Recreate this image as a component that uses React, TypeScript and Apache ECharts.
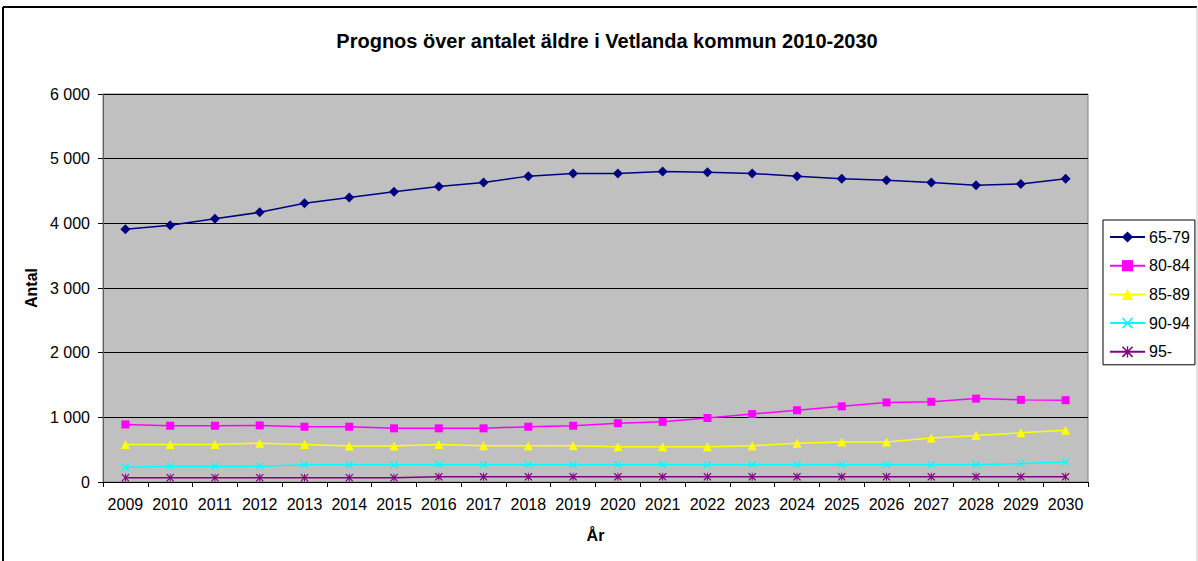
import React, { useEffect, useRef } from "react";
import * as echarts from "echarts";

const years = [
  "2009", "2010", "2011", "2012", "2013", "2014", "2015", "2016", "2017", "2018", "2019",
  "2020", "2021", "2022", "2023", "2024", "2025", "2026", "2027", "2028", "2029", "2030",
];
const s6579 = [3910, 3970, 4070, 4170, 4310, 4400, 4490, 4570, 4630, 4730, 4770, 4770, 4800, 4790, 4770, 4730, 4690, 4665, 4630, 4590, 4610, 4690];
const s8084 = [890, 870, 870, 875, 855, 855, 830, 830, 830, 855, 870, 910, 930, 990, 1050, 1110, 1170, 1230, 1240, 1290, 1270, 1265];
const s8589 = [580, 580, 580, 600, 580, 555, 555, 580, 560, 560, 560, 545, 545, 545, 560, 600, 620, 620, 680, 720, 760, 800];
const s9094 = [230, 245, 245, 245, 265, 265, 265, 265, 265, 265, 265, 265, 265, 265, 265, 265, 265, 265, 265, 265, 285, 310];
const s95 = [65, 65, 65, 65, 65, 65, 65, 80, 80, 80, 80, 80, 80, 80, 80, 80, 80, 80, 80, 80, 80, 80];
const seriesNames = ["65-79", "80-84", "85-89", "90-94", "95-"];
const yTicks = [0, 1000, 2000, 3000, 4000, 5000, 6000];

const FONT = "'Liberation Sans', Arial, sans-serif";
const X_SYMBOL = "path://M1,0 L5,4 L9,0 L10,1 L6,5 L10,9 L9,10 L5,6 L1,10 L0,9 L4,5 L0,1 Z";
const STAR_SYMBOL =
  "path://M1,0 L5,4 L9,0 L10,1 L6,5 L10,9 L9,10 L5,6 L1,10 L0,9 L4,5 L0,1 Z M4.4,0 L5.6,0 L5.6,10 L4.4,10 Z";

function fmt(v: number) {
  if (v === 0) return "0";
  const s = String(v);
  return s.slice(0, s.length - 3) + " " + s.slice(s.length - 3);
}

export default function App() {
  const ref = useRef<HTMLDivElement>(null);
  useEffect(() => {
    if (!ref.current) return;
    const chart = echarts.init(ref.current, undefined, { renderer: "svg" });
    const mk = (name: string, data: number[], color: string, symbol: string, size: number) => ({
      name,
      type: "line",
      data,
      symbol,
      symbolSize: size,
      lineStyle: { color, width: 1.5 },
      itemStyle: { color },
      emphasis: { disabled: true },
    });
    chart.setOption({
      animation: false,
      backgroundColor: "#ffffff",
      textStyle: { fontFamily: FONT },
      title: {
        text: "Prognos över antalet äldre i Vetlanda kommun 2010-2030",
        left: 602,
        top: 26,
        textAlign: "center",
        textStyle: { fontFamily: FONT, fontSize: 20, fontWeight: "bold", color: "#000" },
      },
      grid: {
        left: 103,
        top: 94,
        width: 985,
        bottom: 79,
        show: true,
        backgroundColor: "#C0C0C0",
        borderColor: "#808080",
        borderWidth: 1,
      },
      legend: {
        orient: "vertical",
        left: 1103,
        top: 220,
        width: 91,
        height: 136,
        padding: [9, 5, 5, 6],
        itemWidth: 35,
        itemHeight: 14,
        itemGap: 12.7,
        backgroundColor: "#fff",
        borderColor: "#000",
        borderWidth: 1,
        textStyle: { fontFamily: FONT, fontSize: 16, color: "#000", lineHeight: 14, padding: [0, 0, 0, -1] },
        data: seriesNames,
      },
      xAxis: {
        type: "category",
        data: years,
        boundaryGap: true,
        name: "År",
        nameLocation: "middle",
        nameGap: 45,
        nameTextStyle: { fontFamily: FONT, fontSize: 16, fontWeight: "bold", color: "#000" },
        axisLine: { lineStyle: { color: "#000", width: 1 } },
        axisTick: { show: true, length: 5, alignWithLabel: false, lineStyle: { color: "#000" } },
        axisLabel: { fontFamily: FONT, fontSize: 16, color: "#000", margin: 14, interval: 0 },
        splitLine: { show: false },
      },
      yAxis: {
        type: "value",
        min: 0,
        max: 6000,
        interval: 1000,
        name: "Antal",
        nameLocation: "middle",
        nameGap: 62,
        nameTextStyle: { fontFamily: FONT, fontSize: 16, fontWeight: "bold", color: "#000" },
        axisLine: { show: true, lineStyle: { color: "#606060", width: 1 } },
        axisTick: { show: true, length: 5, lineStyle: { color: "#000" } },
        axisLabel: {
          fontFamily: FONT,
          fontSize: 16,
          color: "#000",
          margin: 13,
          formatter: (v: number) => (yTicks.includes(v) ? fmt(v) : ""),
        },
        splitLine: { show: true, lineStyle: { color: "#000", width: 1 } },
      },
      graphic: [
        { type: "line", shape: { x1: 3, y1: 7, x2: 1197, y2: 7 }, style: { stroke: "#000", lineWidth: 2 }, z: 100 },
        { type: "line", shape: { x1: 3, y1: 7, x2: 3, y2: 561 }, style: { stroke: "#000", lineWidth: 2 }, z: 100 },
        { type: "line", shape: { x1: 1197, y1: 7, x2: 1197, y2: 561 }, style: { stroke: "#c8c8c8", lineWidth: 1 }, z: 100 },
      ],
      series: [
        mk(seriesNames[0], s6579, "#000080", "diamond", 10),
        mk(seriesNames[1], s8084, "#FF00FF", "rect", 8),
        mk(seriesNames[2], s8589, "#FFFF00", "triangle", 9),
        mk(seriesNames[3], s9094, "#00FFFF", X_SYMBOL, 8),
        mk(seriesNames[4], s95, "#800080", STAR_SYMBOL, 8),
      ],
    });
    return () => chart.dispose();
  }, []);
  return <div ref={ref} style={{ position: "fixed", left: 0, top: 0, width: 1198, height: 561 }} />;
}
